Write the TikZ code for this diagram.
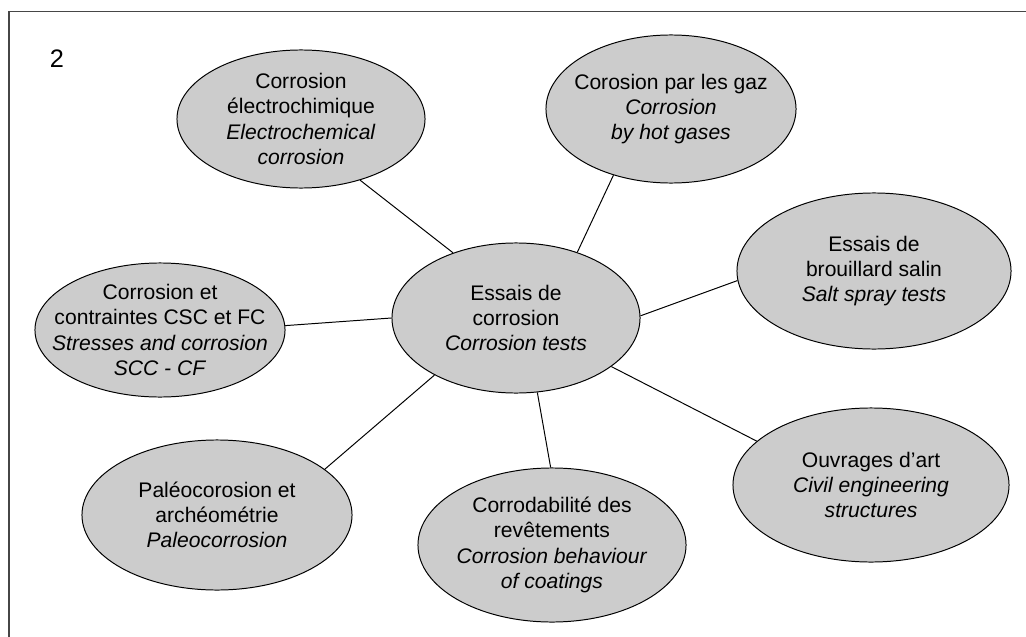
\documentclass[tikz,border=0pt]{standalone}
\usepackage{fontspec}
\setmainfont{Liberation Sans}
\usetikzlibrary{shapes.geometric}
\definecolor{bubblegray}{RGB}{204,204,204}
\definecolor{framegray}{RGB}{70,70,70}
\tikzset{
  bubble/.style={ellipse, draw=black, fill=bubblegray, line width=0.7pt, inner sep=0pt},
  bubbletext/.style={align=center, font=\fontsize{15}{18}\selectfont},
  link/.style={line width=0.7pt}
}
\begin{document}
\begin{tikzpicture}[x=0.025cm,y=-0.025cm]
  \useasboundingbox (0,0) rectangle (1026,637);
  \draw[framegray, line width=1pt] (9,637) -- (9,11.5) -- (1026,11.5);
  \node[font=\fontsize{18}{21}\selectfont] (num) at (57,59) {2};

  % ellipses
  \node[bubble, minimum width=6.2cm, minimum height=3.75cm] (tests) at (516,318) {};
  \node[bubble, minimum width=6.2cm, minimum height=3.45cm] (electro) at (301,119) {};
  \node[bubble, minimum width=6.25cm, minimum height=3.7cm] (gaz) at (671,109) {};
  \node[bubble, minimum width=6.85cm, minimum height=3.9cm] (salt) at (874,271) {};
  \node[bubble, minimum width=6.25cm, minimum height=3.35cm] (csc) at (160,330) {};
  \node[bubble, minimum width=6.75cm, minimum height=3.75cm] (paleo) at (217,515) {};
  \node[bubble, minimum width=6.7cm, minimum height=3.85cm] (coat) at (552,545) {};
  \node[bubble, minimum width=6.9cm, minimum height=3.85cm] (civil) at (871,485) {};

  % texts
  \node[bubbletext] (testsT) at (tests) {Essais de\\corrosion\\\textit{Corrosion tests}};
  \node[bubbletext] (electroT) at (electro) {Corrosion\\électrochimique\\\textit{Electrochemical}\\\textit{corrosion}};
  \node[bubbletext] (gazT) at (gaz) {Corosion par les gaz\\\textit{Corrosion}\\\textit{by hot gases}};
  \node[bubbletext] (saltT) at (salt) {Essais de\\brouillard salin\\\textit{Salt spray tests}};
  \node[bubbletext] (cscT) at (csc) {Corrosion et\\contraintes CSC et FC\\\textit{Stresses and corrosion}\\\textit{SCC - CF}};
  \node[bubbletext] (paleoT) at (paleo) {Paléocorosion et\\archéométrie\\\textit{Paleocorrosion}};
  \node[bubbletext] (coatT) at (coat) {Corrodabilité des\\revêtements\\\textit{Corrosion behaviour}\\\textit{of coatings}};
  \node[bubbletext] (civilT) at (civil) {Ouvrages d’art\\\textit{Civil engineering}\\\textit{structures}};

  % links
  \foreach \a/\n/\b in {134/electro/314, 47.6/gaz/229.7, 1.4/salt/184.6, 180/csc/2, 215.4/paleo/23, 286/coat/91.5, 333.2/civil/159.3}
    \draw[link] (tests.\a) -- (\n.\b);
\end{tikzpicture}
\end{document}
